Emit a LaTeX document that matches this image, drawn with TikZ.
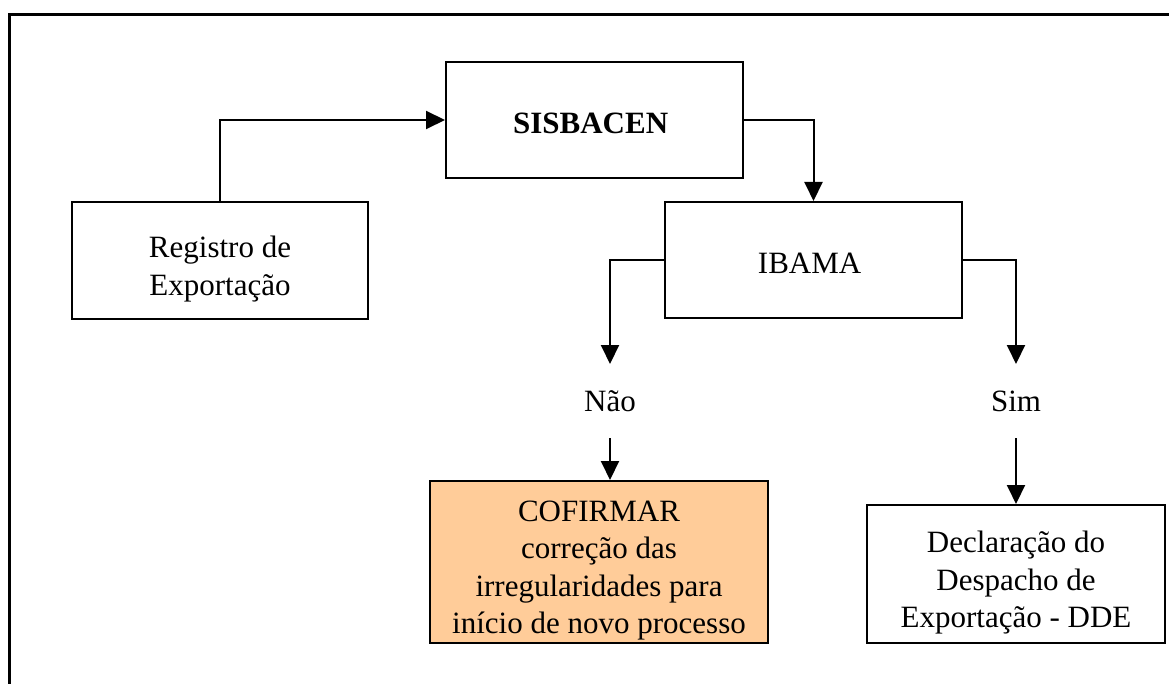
\documentclass[tikz,border=0pt]{standalone}
\usepackage{fontspec}
\setmainfont{Liberation Serif}
\usepackage{tikz}
\usetikzlibrary{arrows.meta}
\usetikzlibrary{positioning}
\definecolor{peach}{RGB}{255,204,153}
\newcommand{\tgap}[1]{\rule{0pt}{#1}}
\tikzset{
    state/.style={
           rectangle,
           draw=black, line width=2pt,
           inner sep=2pt,
           align=center,
           font=\fontsize{31}{37.5}\selectfont,
           },
    state2/.style={
           rectangle,
           inner sep=0pt,
           minimum height=72pt,
           font=\fontsize{31}{37.5}\selectfont,
           },
}

\begin{document}
\begin{tikzpicture}
[
x=1pt,y=-1pt,
->,>={Triangle[length=19pt,width=18pt]},
line width=2pt
]
 \useasboundingbox (0,0) rectangle (1169,684);

 % frame
 \draw[-,line width=3pt] (9,700) -- (9,15) -- (1180,15);

 % STATE REGISTRO
 \node[state,
 minimum width=296pt,
 minimum height=117pt] (REGISTRO) at (220,260.5)
 {%
 \tgap{39pt}Registro de\\Exportação
 };

 % STATE SISBACEN
 \node[state,
 minimum width=297pt,
 minimum height=116pt] (SISBACEN) at (594.5,120)
 {%
 \tgap{28pt}\textbf{SISBACEN}
 };

 % STATE IBAMA
 \node[state,
 minimum width=297pt,
 minimum height=116pt] (IBAMA) at (813.5,260)
 {%
 \tgap{28pt}IBAMA
 };

 % answers
 \node[state2] (NAO) at (610,401) {Não};
 \node[state2] (SIM) at (1016,401) {Sim};

 % STATE CONFIRMAR
 \node[state,
 fill=peach,
 minimum width=338pt,
 minimum height=162pt] (CONFIRMAR) at (599,562)
 {%
 \tgap{38pt}COFIRMAR\\correção das\\irregularidades para\\início de novo processo
 };

 % STATE DDE
 \node[state,
 minimum width=298pt,
 minimum height=138pt] (DDE) at (1016,574)
 {%
 \tgap{39pt}Declaração do\\Despacho de\\Exportação - DDE
 };

 % draw the paths
 \draw (REGISTRO.north) |- (SISBACEN.west);
 \draw (SISBACEN.east) -| (IBAMA.north);
 \draw (IBAMA.west) -| (NAO.north);
 \draw (IBAMA.east) -| (SIM.north);
 \draw (NAO.south) -- (NAO.south |- CONFIRMAR.north);
 \draw (SIM.south) -- (DDE.north);
\end{tikzpicture}
\end{document}
